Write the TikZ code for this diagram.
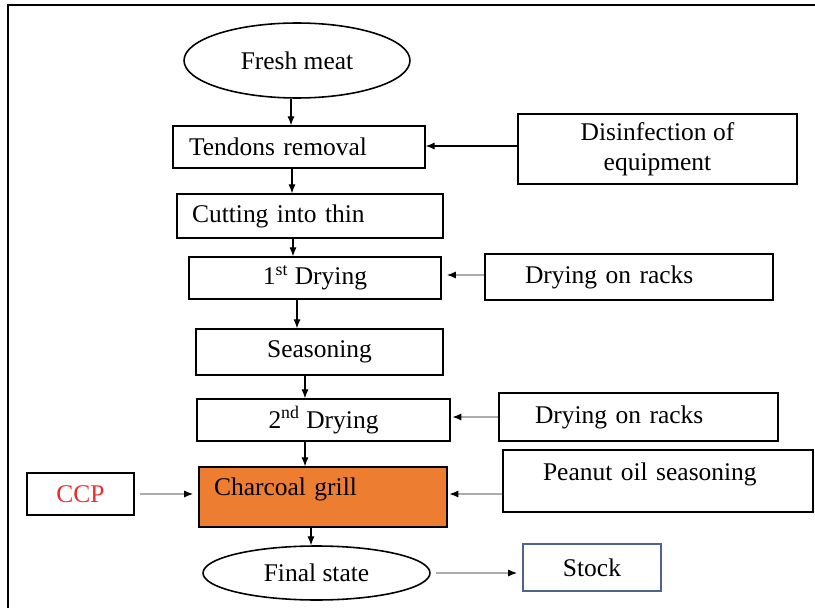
\documentclass[tikz,border=0pt]{standalone}
\usepackage{fontspec}
\setmainfont{Liberation Serif}
\usetikzlibrary{arrows.meta,shapes.geometric}
\definecolor{grillorange}{HTML}{ED7D31}
\definecolor{stockblue}{HTML}{4F6588}
\definecolor{ccpred}{HTML}{EE2A2A}
\tikzset{
  box/.style={draw, line width=0.9pt, inner sep=0pt},
  oval/.style={box, ellipse},
  arr/.style={line width=0.6pt, -{Latex[length=5pt,width=4pt]}},
  garr/.style={arr, draw=gray!65, -{Latex[length=5pt,width=4pt,color=black]}}
}
\begin{document}
\begin{tikzpicture}[x=0.02cm, y=-0.02cm, font=\fontsize{14.5}{17}\selectfont]
  \useasboundingbox (0,0) rectangle (815,608);
  \draw[line width=1.2pt](8,608)--(8,5)--(815,5);
  \node[oval, minimum width=4.52cm, minimum height=1.5cm](fm) at (297,60.5){Fresh meat};
  \node[box, text width=4.4cm, align=left, inner xsep=0.32cm, minimum height=0.84cm](tr) at (299,147){Tendons removal};
  \node[box, text width=4.72cm, align=left, inner xsep=0.3cm, minimum height=0.88cm](ct) at (310,216){Cutting into thin};
  \node[box, minimum width=5.04cm, minimum height=0.84cm](d1) at (315,278){1\textsuperscript{st} Drying};
  \node[box, minimum width=4.94cm, minimum height=0.92cm](se) at (319.5,352){Seasoning};
  \node[box, minimum width=5.06cm, minimum height=0.84cm](d2) at (323.5,420){2\textsuperscript{nd} Drying};
  \node[box, fill=grillorange, text width=4.36cm, align=left, inner xsep=0.3cm,
    text height=0.56cm, text depth=0.64cm](cg) at (323,497){Charcoal grill};
  \node[oval, minimum width=4.54cm, minimum height=1.08cm](fs) at (316.5,573){Final state};
  \node[box, text=ccpred, minimum width=2.14cm, minimum height=0.84cm](ccp) at (80.5,494){CCP};
  \node[box, align=center, minimum width=5.58cm, minimum height=1.4cm](dis) at (657.5,149){Disinfection of\\equipment};
  \node[box, text width=4.16cm, align=left, inner xsep=0.8cm, minimum height=0.92cm](dr1) at (629,277){Drying on racks};
  \node[box, text width=4.14cm, align=left, inner xsep=0.72cm, minimum height=0.96cm](dr2) at (638.5,417){Drying on racks};
  \node[box, text width=4.6cm, align=left, inner xsep=0.8cm,
    text height=0.6cm, text depth=0.64cm](po) at (658,481){Peanut oil seasoning};
  \node[box, draw=stockblue, minimum width=2.76cm, minimum height=0.94cm](st) at (592,567.5){Stock};
  \draw[arr](fm.south -| 291,0)--(tr.north -| 291,0);
  \draw[arr](tr.south -| 292,0)--(ct.north -| 292,0);
  \draw[arr](ct.south -| 293,0)--(d1.north -| 293,0);
  \draw[arr](d1.south -| 297,0)--(se.north -| 297,0);
  \draw[arr](se.south -| 305,0)--(d2.north -| 305,0);
  \draw[arr](d2.south -| 305,0)--(cg.north -| 305,0);
  \draw[arr](cg.south -| 311,0)--(fs.north -| 311,0);
  \draw[arr](dis.west |- 0,146)--(tr.east |- 0,146);
  \draw[garr, shorten >=3pt](dr1.west |- 0,275)--(d1.east |- 0,275);
  \draw[garr, shorten >=1pt](dr2.west)--(d2.east |- dr2.west);
  \draw[garr, shorten >=1pt](po.west |- 0,494)--(cg.east |- 0,494);
  \draw[garr, shorten <=3pt, shorten >=3pt](ccp.east)--(cg.west |- ccp.east);
  \draw[garr, shorten <=3pt, shorten >=3pt](fs.east)--(st.west |- fs.east);
\end{tikzpicture}
\end{document}
